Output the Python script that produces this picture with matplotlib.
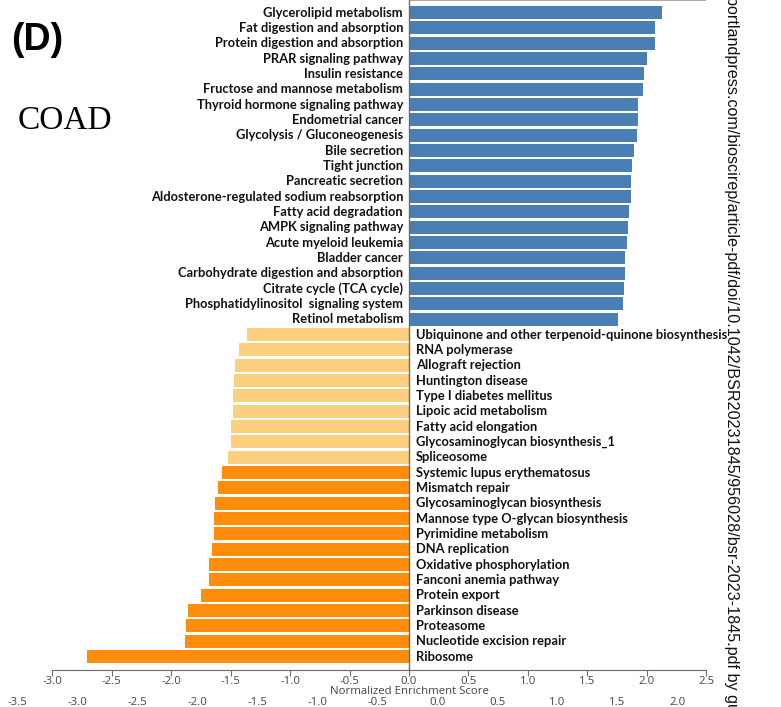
import numpy as np
import matplotlib
matplotlib.use("Agg")
import matplotlib.pyplot as plt
import matplotlib.transforms as mtransforms

# pathways enriched in the high group (positive NES)
up_terms = [
    "Glycerolipid metabolism", "Fat digestion and absorption",
    "Protein digestion and absorption", "PRAR signaling pathway",
    "Insulin resistance", "Fructose and mannose metabolism",
    "Thyroid hormone signaling pathway", "Endometrial cancer",
    "Glycolysis / Gluconeogenesis", "Bile secretion", "Tight junction",
    "Pancreatic secretion", "Aldosterone-regulated sodium reabsorption",
    "Fatty acid degradation", "AMPK signaling pathway",
    "Acute myeloid leukemia", "Bladder cancer",
    "Carbohydrate digestion and absorption", "Citrate cycle (TCA cycle)",
    "Phosphatidylinositol  signaling system", "Retinol metabolism",
]
up_nes = [2.13, 2.07, 2.07, 2.00, 1.98, 1.97, 1.93, 1.925, 1.92, 1.89, 1.88,
          1.87, 1.865, 1.85, 1.845, 1.835, 1.82, 1.82, 1.81, 1.80, 1.755]

# negative NES, weaker group
mid_terms = [
    "Ubiquinone and other terpenoid-quinone biosynthesis", "RNA polymerase",
    "Allograft rejection", "Huntington disease", "Type I diabetes mellitus",
    "Lipoic acid metabolism", "Fatty acid elongation",
    "Glycosaminoglycan biosynthesis_1", "Spliceosome",
]
mid_nes = [-1.363, -1.43, -1.467, -1.476, -1.48, -1.485, -1.495, -1.50, -1.526]

# negative NES, strongest group
down_terms = [
    "Systemic lupus erythematosus", "Mismatch repair",
    "Glycosaminoglycan biosynthesis", "Mannose type O-glycan biosynthesis",
    "Pyrimidine metabolism", "DNA replication", "Oxidative phosphorylation",
    "Fanconi anemia pathway", "Protein export", "Parkinson disease",
    "Proteasome", "Nucleotide excision repair", "Ribosome",
]
down_nes = [-1.574, -1.608, -1.63, -1.638, -1.644, -1.66, -1.68, -1.687,
            -1.748, -1.863, -1.877, -1.886, -2.711]

x_ticks = [-3.0, -2.5, -2.0, -1.5, -1.0, -0.5, 0.0, 0.5, 1.0, 1.5, 2.0, 2.5]
x_ticks_lower = [-3.5, -3.0, -2.5, -2.0, -1.5, -1.0, -0.5, 0.0, 0.5, 1.0, 1.5, 2.0]

blue = "#4a7fb5"
light_orange = "#fccf7e"
dark_orange = "#ff8c0a"
grey = "#6b6b6b"
label_font = dict(family="Lato", weight="bold", size=9.3, color="#111111")
tick_font = dict(family="Open Sans", size=8.2)

terms = up_terms + mid_terms + down_terms
nes = np.array(up_nes + mid_nes + down_nes)
colors = ([blue] * len(up_terms) + [light_orange] * len(mid_terms)
          + [dark_orange] * len(down_terms))
y = np.arange(len(terms))

fig = plt.figure(figsize=(7.81, 7.07), dpi=100)
ax = fig.add_axes([0.0672, 0.0523, 0.8370, 0.9477])

ax.barh(y, nes, height=0.86, color=colors, edgecolor="none")
ax.set_xlim(-3.0, 2.5)
ax.set_ylim(len(terms) - 0.12, -0.82)

# pathway names sit on the opposite side of the zero line
for yi, t, v in zip(y, terms, nes):
    if v > 0:
        ax.text(-0.05, yi, t, ha="right", va="center", **label_font)
    else:
        ax.text(0.06, yi, t, ha="left", va="center", clip_on=False, **label_font)

ax.axvline(0, color=grey, lw=1.0, zorder=3)
ax.hlines(ax.get_ylim()[1], 0, ax.get_xlim()[1], color="#9a9a9a", lw=1.2,
          clip_on=False)

for s in ["left", "right", "top"]:
    ax.spines[s].set_visible(False)
ax.spines["bottom"].set_color(grey)
ax.set_yticks([])
ax.set_xticks(x_ticks)
ax.set_xticklabels([f"{t:.1f}" for t in x_ticks])
ax.tick_params(axis="x", length=4, color=grey, labelcolor="#444444",
               labelsize=tick_font["size"], pad=0)
for lab in ax.get_xticklabels():
    lab.set_family(tick_font["family"])

trans = mtransforms.blended_transform_factory(ax.transData, ax.transAxes)
ax.text(0, -0.0325, "Normalized Enrichment Score", transform=trans,
        ha="center", va="center", color="#444444", **tick_font)

# second row of tick labels along the bottom edge
ax2 = fig.add_axes([0.0218, 0.0, 0.8454, 0.01])
ax2.set_xlim(-3.5, 2.0)
ax2.set_xticks(x_ticks_lower)
ax2.set_xticklabels([f"{t:.1f}" for t in x_ticks_lower])
ax2.tick_params(axis="x", length=0, labelcolor="#444444",
                labelsize=tick_font["size"], pad=-7)
for lab in ax2.get_xticklabels():
    lab.set_family(tick_font["family"])
ax2.set_yticks([])
for s in ax2.spines.values():
    s.set_visible(False)
ax2.patch.set_alpha(0)

fig.text(0.014, 0.944, "(D)", family="Liberation Sans", weight="bold",
         size=27, ha="left", va="center")
fig.text(0.022, 0.829, "COAD", family="Liberation Serif", size=24,
         ha="left", va="center")

fig.text(0.936, 1.005,
         "portlandpress.com/bioscirep/article-pdf/doi/10.1042/BSR20231845/"
         "956028/bsr-2023-1845.pdf by gu",
         rotation=-90, family="Liberation Sans", size=11.6, ha="center",
         va="top", color="#111111")

fig.savefig("out.png", dpi=100)
